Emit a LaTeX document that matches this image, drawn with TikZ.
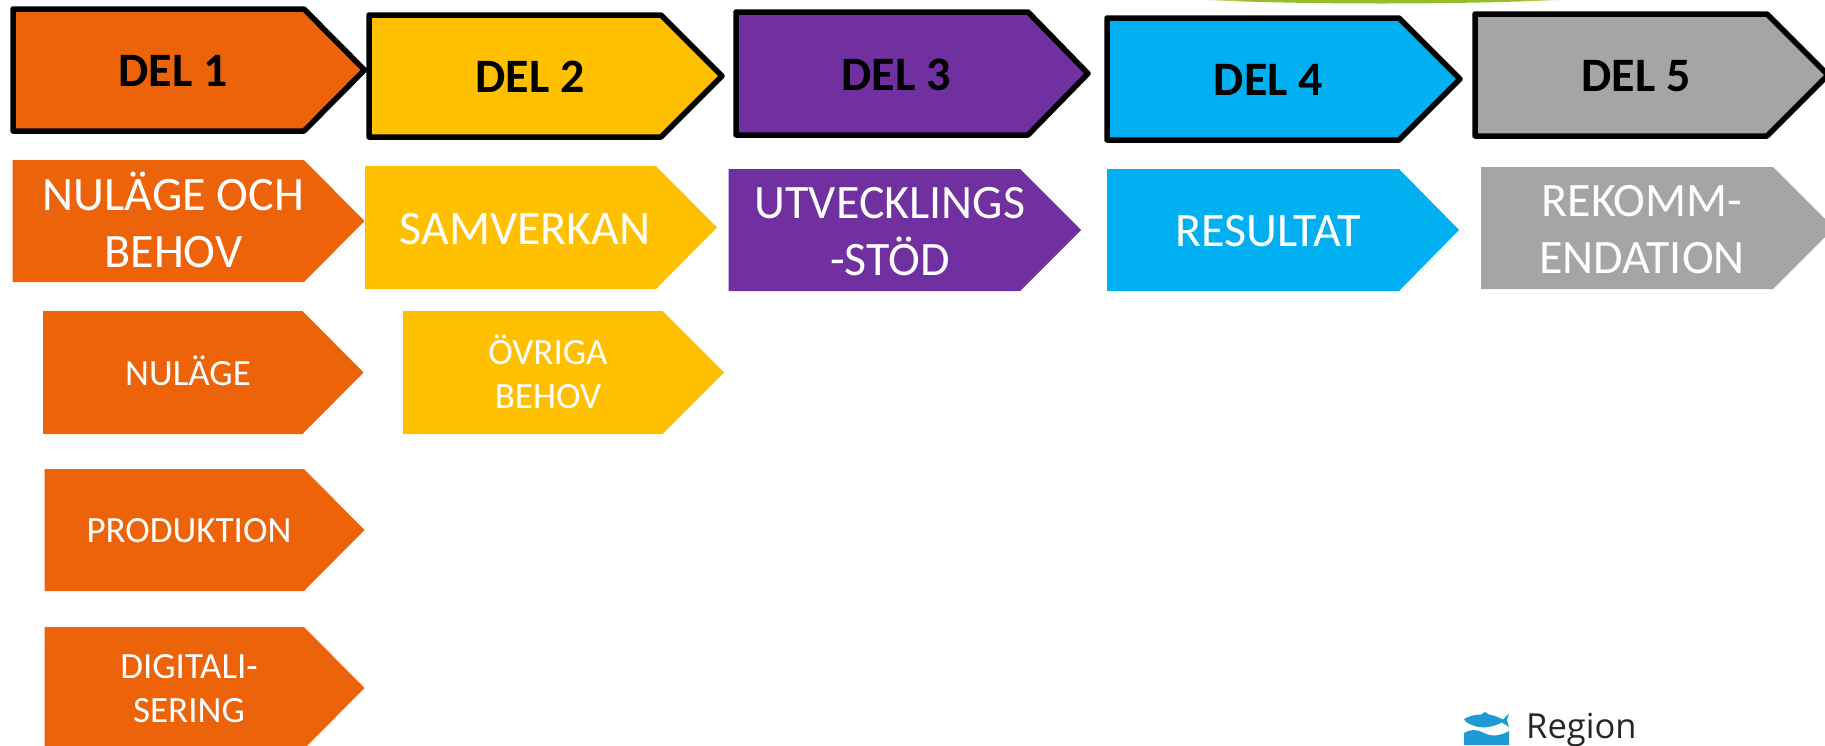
\documentclass[tikz,border=0pt]{standalone}
\usepackage{fontspec}
\setmainfont{Carlito}
\newfontfamily\logofont{Open Sans}
\definecolor{orangeC}{HTML}{EC630A}
\definecolor{yellowC}{HTML}{FFC000}
\definecolor{purpleC}{HTML}{7030A0}
\definecolor{blueC}{HTML}{00B0F0}
\definecolor{grayC}{HTML}{A5A5A5}
\definecolor{logoC}{HTML}{1E9AD6}
\definecolor{greenC}{HTML}{96BE28}
\pgfdeclarehorizontalshading{bandshade}{100bp}{color(0bp)=(white); color(25bp)=(white); color(33bp)=(greenC); color(67bp)=(greenC); color(75bp)=(white); color(100bp)=(white)}
\tikzset{
  head/.style={draw=black,line width=5.5pt,line join=round},
  sub/.style={draw=none},
  headtext/.style={font=\fontsize{48}{48}\selectfont\bfseries,text=black,inner sep=0pt},
  bigtext/.style={font=\fontsize{48}{57}\selectfont,text=white,inner sep=0pt,align=center},
  smalltext/.style={font=\fontsize{37}{44}\selectfont,text=white,inner sep=0pt,align=center}
}
% #1 options, #2 fill, #3 left, #4 shoulder, #5 tip, #6 top, #7 bottom
\newcommand{\arrowshape}[7]{\path[#1,fill=#2] (#3,#6) -- (#4,#6) -- (#5,{(#6+#7)/2}) -- (#4,#7) -- (#3,#7) -- cycle;}
\begin{document}
\begin{tikzpicture}[x=1pt,y=-1pt]
\useasboundingbox (0,0) rectangle (1825,745);
\clip (0,0) rectangle (1825,745);
% green band
\path[shading=bandshade] (1183,-1) .. controls (1300,5) and (1460,5) .. (1583,-1) -- cycle;
% headers
\arrowshape{head}{orangeC}{13}{304}{364.5}{9}{131}
\arrowshape{head}{yellowC}{369}{661}{722}{15}{137}
\arrowshape{head}{purpleC}{736}{1028}{1088}{12}{135}
\arrowshape{head}{blueC}{1107}{1399}{1460}{18}{140}
\arrowshape{head}{grayC}{1475}{1767}{1828}{14}{136}
\node[headtext] (del1) at (173,71) {DEL 1};
\node[headtext] (del2) at (530,77) {DEL 2};
\node[headtext] (del3) at (896,74.5) {DEL 3};
\node[headtext] (del4) at (1268.5,80) {DEL 4};
\node[headtext] (del5) at (1636,76) {DEL 5};
% second row
\arrowshape{sub}{orangeC}{12.6}{304}{364.5}{160}{282}
\arrowshape{sub}{yellowC}{365}{656}{717}{166}{289}
\arrowshape{sub}{purpleC}{728.5}{1020}{1081}{169}{291}
\arrowshape{sub}{blueC}{1107}{1399}{1459}{169}{291}
\arrowshape{sub}{grayC}{1481}{1773}{1834}{167}{289}
\node[bigtext] (behov) at (173.5,220) {NULÄGE OCH\\BEHOV};
\node[bigtext] (samverkan) at (525,229.5) {SAMVERKAN};
\node[bigtext] (utv) at (890,231.5) {UTVECKLINGS\\-STÖD};
\node[bigtext] (resultat) at (1268,231) {RESULTAT};
\node[bigtext] (rekomm) at (1642,229.5) {REKOMM-\\ENDATION};
% lower rows
\arrowshape{sub}{orangeC}{43}{302.5}{363.5}{311}{434}
\arrowshape{sub}{yellowC}{403}{662.6}{724}{311}{434}
\arrowshape{sub}{orangeC}{44.6}{304}{364.5}{469}{591}
\arrowshape{sub}{orangeC}{44.6}{304}{364.5}{627}{749}
\node[smalltext] (nulage) at (188,371) {NULÄGE};
\node[smalltext] (ovriga) at (548,372) {ÖVRIGA\\BEHOV};
\node[smalltext] (produktion) at (189,531) {PRODUKTION};
\node[smalltext] (digital) at (189,689) {DIGITALI-\\SERING};
% logo: fish
\fill[logoC] (1464,719) .. controls (1470,715.5) and (1476,714.5) .. (1481,714.5)
  -- (1485,712) -- (1489,714.5) .. controls (1495,715.5) and (1500,718) .. (1503,719.5)
  -- (1509,713.5) -- (1507,720) -- (1509,727) -- (1502,722.5)
  .. controls (1497,725) and (1491,727) .. (1484,727.5)
  .. controls (1477,727.5) and (1471,725) .. (1466,722) -- cycle;
% logo: waves
\fill[logoC] (1464,733) .. controls (1470,729) and (1477,729) .. (1484,733)
  .. controls (1492,737) and (1500,736) .. (1509,731) -- (1509,745) -- (1464,745) -- cycle;
\node[font=\fontsize{34.5}{34.5}\selectfont\logofont,text=black!85,anchor=base west,inner sep=0pt] (region) at (1526,738) {Region};
\end{tikzpicture}
\end{document}
